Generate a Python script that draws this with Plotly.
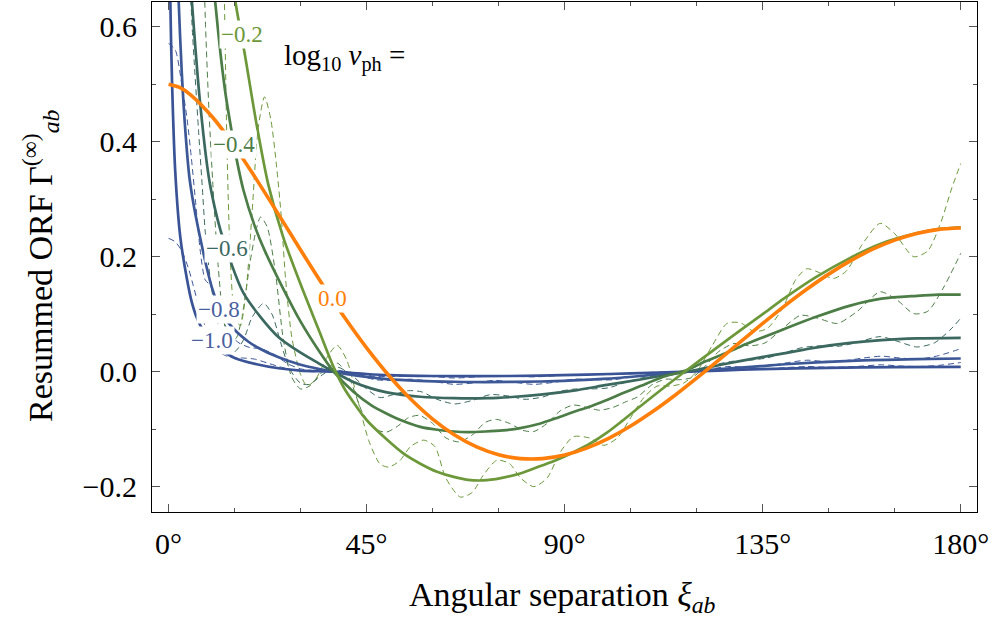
import plotly.graph_objects as go

# ---------------- data ----------------
# Hellings-Downs limit, log10 v_ph = 0.0 (orange)
ang_00 = [0, 2.5, 5, 10, 15, 20, 25, 30, 35, 40, 45, 50, 55, 60, 65, 70, 75, 80, 85, 90,
          95, 100, 105, 110, 115, 120, 125, 130, 135, 140, 145, 150, 155, 160, 165, 170, 175, 180]
orf_00 = [0.5000, 0.4944, 0.4816, 0.4425, 0.3917, 0.3341, 0.2732, 0.2116, 0.1514, 0.0942,
          0.0414, -0.0062, -0.0476, -0.0824, -0.1102, -0.1309, -0.1445, -0.1511, -0.1511, -0.1449,
          -0.1329, -0.1159, -0.0945, -0.0693, -0.0413, -0.0111, 0.0203, 0.0522, 0.0839, 0.1145,
          0.1433, 0.1697, 0.1931, 0.2130, 0.2289, 0.2405, 0.2476, 0.2500]

# log10 v_ph = -0.2 (solid)
ang_m02 = [12, 13.5, 15.2, 17.3, 20, 22.7, 26, 30, 34, 37.5, 40, 42, 45, 49.6, 53.5, 57.2, 61, 64.8,
           68, 71.5, 75.5, 79.9, 84.5, 88, 92, 96, 99.6, 103, 107.2, 112, 117.8, 124.6, 129.9,
           135, 139.8, 147, 154.9, 162, 170.1, 175, 180]
orf_m02 = [0.86, 0.75, 0.643, 0.553, 0.43, 0.324, 0.235, 0.152, 0.075, 0.008, -0.030, -0.053,
           -0.084, -0.118, -0.143, -0.160, -0.174, -0.183, -0.188, -0.189, -0.185, -0.177, -0.164,
           -0.154, -0.140, -0.124, -0.106, -0.086, -0.060, -0.031, 0.003, 0.042, 0.072, 0.100,
           0.127, 0.164, 0.198, 0.223, 0.241, 0.248, 0.251]

# log10 v_ph = -0.4 (solid)
ang_m04 = [8, 9.3, 10.6, 11.8, 13, 14.4, 15.5, 17, 19.5, 22, 26, 30, 34, 37.5, 42, 46, 49.6, 53,
           57.2, 61, 64.8, 68, 72, 76, 79.9, 84.5, 88, 92, 96, 99.6, 103, 107.2, 112, 117.8, 122,
           126.1, 130, 134.5, 139.8, 147, 154.9, 162, 170.1, 175, 180]
orf_m04 = [0.88, 0.75, 0.643, 0.553, 0.48, 0.415, 0.368, 0.316, 0.255, 0.208, 0.145, 0.087,
           0.038, 0.0, -0.035, -0.058, -0.073, -0.085, -0.096, -0.101, -0.104, -0.105, -0.104,
           -0.102, -0.098, -0.090, -0.081, -0.070, -0.060, -0.049, -0.038, -0.025, -0.010, 0.003,
           0.018, 0.031, 0.044, 0.058, 0.074, 0.095, 0.115, 0.127, 0.132, 0.134, 0.134]

# log10 v_ph = -0.6 (solid)
ang_m06 = [3, 4.2, 5.3, 7, 9.1, 10.5, 11.8, 13.3, 14.4, 17, 20.9, 25, 30, 34, 37.5, 42, 46, 49.6,
           57.2, 64.8, 72.4, 78, 84.5, 92, 99.6, 107.2, 112, 117.8, 126.1, 134.5, 139.8, 147,
           154.9, 162, 170.1, 180]
orf_m06 = [0.95, 0.76, 0.643, 0.48, 0.34, 0.285, 0.246, 0.212, 0.185, 0.137, 0.095, 0.060, 0.033,
           0.015, 0.0, -0.018, -0.029, -0.036, -0.0435, -0.046, -0.046, -0.044, -0.040, -0.033,
           -0.023, -0.0135, -0.007, 0.0, 0.013, 0.025, 0.032, 0.042, 0.050, 0.055, 0.058, 0.059]

# log10 v_ph = -0.8 (solid)
ang_m08 = [1.2, 1.7, 2.3, 3.0, 3.8, 4.7, 5.7, 7.2, 8.7, 9.9, 11.4, 13.3, 15.5, 18, 20, 25, 30, 34,
           37.5, 42, 49.6, 57, 65, 72, 84.5, 92, 100, 108, 118, 126, 134.5, 140, 155, 170, 180]
orf_m08 = [0.95, 0.8, 0.643, 0.52, 0.42, 0.34, 0.29, 0.232, 0.18, 0.145, 0.113, 0.088, 0.069,
           0.053, 0.043, 0.025, 0.012, 0.005, 0.0, -0.006, -0.013, -0.016, -0.0175, -0.018,
           -0.017, -0.015, -0.012, -0.007, 0.0, 0.005, 0.0096, 0.013, 0.019, 0.022, 0.023]

# log10 v_ph = -1.0 (solid)
ang_m10 = [0.25, 0.4, 0.8, 1.5, 2.66, 4.2, 5.3, 6.5, 8, 9.9, 12, 15, 20, 25, 30, 37.5, 45, 50, 60,
           70, 84.5, 95, 105, 118, 125, 134.5, 150, 165, 180]
orf_m10 = [0.82, 0.643, 0.50, 0.35, 0.234, 0.16, 0.12, 0.092, 0.07, 0.053, 0.038, 0.024, 0.013,
           0.006, 0.002, 0.0, -0.004, -0.006, -0.0075, -0.0078, -0.0068, -0.005, -0.003, 0.0,
           0.002, 0.0045, 0.0068, 0.008, 0.0084]

# truncated-series curves (dashed)
dang_m02 = [11, 12, 12.7, 13.3, 14, 15, 16.3, 17.6, 19, 20.3, 21.8, 23.2, 24.5, 25.6, 26.6, 28, 30,
            31.5, 33.5, 36, 38.3, 40.5, 43, 45.5, 48, 50, 52.5, 55, 58, 60.5, 63, 66.3, 69, 71.5,
            74.6, 77.5, 80, 83, 86, 89, 92, 95.5, 98.9, 102, 105, 108, 111, 114, 117, 120, 123.5,
            126.9, 130, 133, 136, 139.5, 142.5, 145, 148, 151, 154, 157.5, 161.7, 165, 169.3,
            172.5, 175.5, 178, 180]
dorf_m02 = [1.3, 0.95, 0.64, 0.38, 0.2, 0.1, 0.08, 0.14, 0.28, 0.42, 0.478, 0.44, 0.36, 0.27,
            0.16, 0.06, -0.005, -0.025, -0.012, 0.025, 0.046, 0.02, -0.05, -0.12, -0.16, -0.166,
            -0.155, -0.13, -0.119, -0.13, -0.185, -0.218, -0.21, -0.18, -0.154, -0.16, -0.185,
            -0.200, -0.185, -0.14, -0.113, -0.115, -0.128, -0.115, -0.08, -0.045, -0.025, -0.025,
            -0.02, 0.0, 0.045, 0.084, 0.085, 0.07, 0.075, 0.11, 0.16, 0.179, 0.172, 0.162, 0.175,
            0.22, 0.258, 0.24, 0.200, 0.21, 0.26, 0.32, 0.362]

dang_m04 = [6.5, 7.5, 8.4, 9.2, 10.1, 11.2, 12.5, 14, 15.5, 17, 18.5, 20, 20.9, 22.4, 24.3, 26.1,
            28, 30, 32, 35, 38.3, 41, 44, 47, 49.5, 52, 54.5, 57, 60, 63, 66, 69, 72, 74.5, 77.5,
            80.5, 83, 86, 89, 92, 95, 98, 101, 104, 106.5, 110, 113, 116, 119, 122, 125, 128.5,
            132, 135.5, 139.5, 143.6, 147.5, 152, 156.5, 161.7, 165.5, 169.3, 172.5, 176, 180]
dorf_m04 = [1.2, 0.85, 0.6, 0.45, 0.32, 0.19, 0.09, 0.05, 0.06, 0.11, 0.19, 0.25, 0.269, 0.252,
            0.171, 0.055, -0.01, -0.03, -0.025, 0.0, 0.015, -0.01, -0.07, -0.10, -0.105, -0.095,
            -0.08, -0.076, -0.09, -0.115, -0.122, -0.11, -0.088, -0.083, -0.09, -0.102, -0.104,
            -0.09, -0.068, -0.058, -0.062, -0.067, -0.062, -0.052, -0.044, -0.022, -0.013, -0.014,
            -0.01, 0.01, 0.035, 0.049, 0.045, 0.05, 0.075, 0.098, 0.093, 0.084, 0.105, 0.139,
            0.125, 0.101, 0.105, 0.145, 0.206]

dang_m06 = [0, 2, 4, 5.5, 6.8, 7.7, 8.3, 9.5, 11, 13, 15, 17, 19, 21.6, 23.5, 25.5, 27.5, 30, 32,
            35, 38.3, 41.5, 45, 48, 51, 54.5, 57.5, 61, 65, 69, 73, 77, 81, 85, 89, 92.5, 96, 100,
            104, 108, 112, 116, 120, 124, 128, 132, 136, 140, 144, 148, 152, 156, 161.7, 166, 170,
            174, 177.5, 180]
dorf_m06 = [1.15, 1.05, 0.8, 0.58, 0.42, 0.316, 0.246, 0.16, 0.09, 0.045, 0.035, 0.055, 0.095,
            0.119, 0.1, 0.05, 0.005, -0.02, -0.022, -0.005, 0.008, -0.005, -0.03, -0.045, -0.04,
            -0.033, -0.035, -0.048, -0.056, -0.05, -0.04, -0.042, -0.048, -0.044, -0.034, -0.03,
            -0.03, -0.028, -0.018, -0.01, -0.006, -0.004, 0.003, 0.012, 0.018, 0.02, 0.024, 0.033,
            0.042, 0.045, 0.044, 0.05, 0.061, 0.052, 0.043, 0.05, 0.072, 0.093]

dang_m08 = [0, 1.5, 3, 4.2, 5.2, 6.2, 7.2, 8.3, 9.5, 10.5, 12, 14, 16, 18.5, 21, 24, 27, 30, 33,
            36, 39, 43, 47, 51, 55, 60, 65, 70, 74, 78, 83, 88, 92, 97, 101, 106, 110, 114, 118,
            122, 127, 131, 136, 140, 145, 149, 153.5, 158, 162, 166, 170.5, 175, 180]
dorf_m08 = [0.571, 0.56, 0.5, 0.44, 0.37, 0.29, 0.21, 0.16, 0.15, 0.13, 0.095, 0.065, 0.05, 0.042,
            0.04, 0.03, 0.014, 0.005, 0.002, 0.003, 0.002, -0.006, -0.014, -0.015, -0.013, -0.017,
            -0.022, -0.019, -0.015, -0.018, -0.022, -0.018, -0.013, -0.014, -0.014, -0.008, -0.003,
            -0.002, -0.001, 0.003, 0.009, 0.008, 0.01, 0.015, 0.02, 0.018, 0.019, 0.024, 0.027,
            0.024, 0.022, 0.028, 0.04]

dang_m10 = [0, 1.5, 3, 4.5, 5.6, 7, 8.5, 10, 12, 14, 16.5, 19.5, 22.5, 26, 30, 34, 38.3, 43, 47,
            52, 56, 61, 65, 70, 74, 79, 83, 88, 92, 97, 101, 106, 110, 114, 118.5, 123, 127.5,
            132, 136, 140, 145, 149, 153.5, 158, 162, 166, 170.5, 175, 180]
dorf_m10 = [0.232, 0.226, 0.21, 0.18, 0.15, 0.11, 0.075, 0.05, 0.032, 0.025, 0.024, 0.022, 0.015,
            0.007, 0.001, 0.0, 0.001, -0.004, -0.008, -0.008, -0.007, -0.009, -0.011, -0.009,
            -0.007, -0.008, -0.009, -0.007, -0.005, -0.005, -0.005, -0.003, -0.001, -0.001, 0.0,
            0.002, 0.004, 0.004, 0.005, 0.007, 0.009, 0.008, 0.008, 0.01, 0.012, 0.01, 0.009,
            0.011, 0.016]

# curve labels (text, angle, value)
label_text = ["\u22120.2", "\u22120.4", "\u22120.6", "\u22120.8", "\u22121.0", "0.0"]
label_ang = [16.7, 14.8, 13.3, 11.4, 9.9, 37.3]
label_val = [0.587, 0.395, 0.214, 0.108, 0.055, 0.127]

x_tickvals = [0, 45, 90, 135, 180]
x_ticktext = ["0°", "45°", "90°", "135°", "180°"]
y_tickvals = [-0.2, 0.0, 0.2, 0.4, 0.6]
y_ticktext = ["\u22120.2", "0.0", "0.2", "0.4", "0.6"]

# ---------------- styling ----------------
C_ORANGE = "#FF7F0A"
C_M02 = "#6C983A"
C_M04 = "#4C7D46"
C_M06 = "#3C695F"
C_M08 = "#3D5897"
C_M10 = "#3A5396"
label_col = [C_M02, C_M04, C_M06, "#4A5FA0", "#4A5FA0", C_ORANGE]
FONT = "Liberation Serif"

fig = go.Figure()

dashed = [(dang_m10, dorf_m10, C_M10), (dang_m08, dorf_m08, C_M08), (dang_m06, dorf_m06, C_M06),
          (dang_m04, dorf_m04, C_M04), (dang_m02, dorf_m02, C_M02)]
for xs, ys, c in dashed:
    fig.add_trace(go.Scatter(x=xs, y=ys, mode="lines",
                             line=dict(color=c, width=1, dash="6px,4px", shape="spline", smoothing=0.7),
                             showlegend=False, hoverinfo="skip"))

solid = [(ang_m10, orf_m10, C_M10), (ang_m08, orf_m08, C_M08), (ang_m06, orf_m06, C_M06),
         (ang_m04, orf_m04, C_M04), (ang_m02, orf_m02, C_M02)]
for xs, ys, c in solid:
    fig.add_trace(go.Scatter(x=xs, y=ys, mode="lines",
                             line=dict(color=c, width=2.7, shape="spline", smoothing=0.8),
                             showlegend=False, hoverinfo="skip"))

fig.add_trace(go.Scatter(x=ang_00, y=orf_00, mode="lines",
                         line=dict(color=C_ORANGE, width=3.6, shape="spline", smoothing=0.8),
                         showlegend=False, hoverinfo="skip"))

for t, a, v, c in zip(label_text, label_ang, label_val, label_col):
    fig.add_annotation(x=a, y=v, text=t, showarrow=False, xanchor="center", yanchor="middle",
                       font=dict(family=FONT, size=23, color=c), bgcolor="white", borderpad=1)

fig.add_annotation(x=40.0, y=0.547, text="log<sub>10</sub> <i>v</i><sub>ph</sub> =", showarrow=False,
                   xanchor="center", yanchor="middle", font=dict(family=FONT, size=29, color="black"))

# axis titles
fig.add_annotation(xref="paper", yref="paper", x=0.498, y=-0.167,
                   text="Angular separation <i>ξ</i><sub><i>ab</i></sub>", showarrow=False,
                   xanchor="center", yanchor="middle", font=dict(family=FONT, size=34, color="black"))
fig.add_annotation(xref="paper", yref="paper", x=-0.136, y=0.484, textangle=-90,
                   text="Resummed ORF Γ<sup>(∞)</sup><sub><i>ab</i></sub>", showarrow=False,
                   xanchor="center", yanchor="middle", font=dict(family=FONT, size=34, color="black"))

axis_common = dict(showgrid=False, zeroline=False, showline=True, linecolor="black", linewidth=1.2,
                   mirror="allticks", ticks="inside", ticklen=8, tickwidth=1, tickcolor="#555555",
                   tickfont=dict(family=FONT, size=30, color="black"))

fig.update_xaxes(range=[-3.77, 183.7], tickmode="array", tickvals=x_tickvals, ticktext=x_ticktext,
                 minor=dict(tickvals=[15, 30, 60, 75, 105, 120, 150, 165], ticks="inside", ticklen=4,
                            tickcolor="#555555", tickwidth=1),
                 ticklabelstandoff=5, **axis_common)
fig.update_yaxes(range=[-0.244, 0.643], tickmode="array", tickvals=y_tickvals, ticktext=y_ticktext,
                 minor=dict(tickvals=[-0.1, 0.1, 0.3, 0.5], ticks="inside", ticklen=4,
                            tickcolor="#555555", tickwidth=1),
                 ticklabelstandoff=8, **axis_common)

fig.update_layout(width=992, height=621, margin=dict(l=152, r=15, t=2, b=109),
                  paper_bgcolor="white", plot_bgcolor="white", showlegend=False)

fig.write_html("out.html", config={"displayModeBar": False},
               post_script="document.body.style.margin='0';")
